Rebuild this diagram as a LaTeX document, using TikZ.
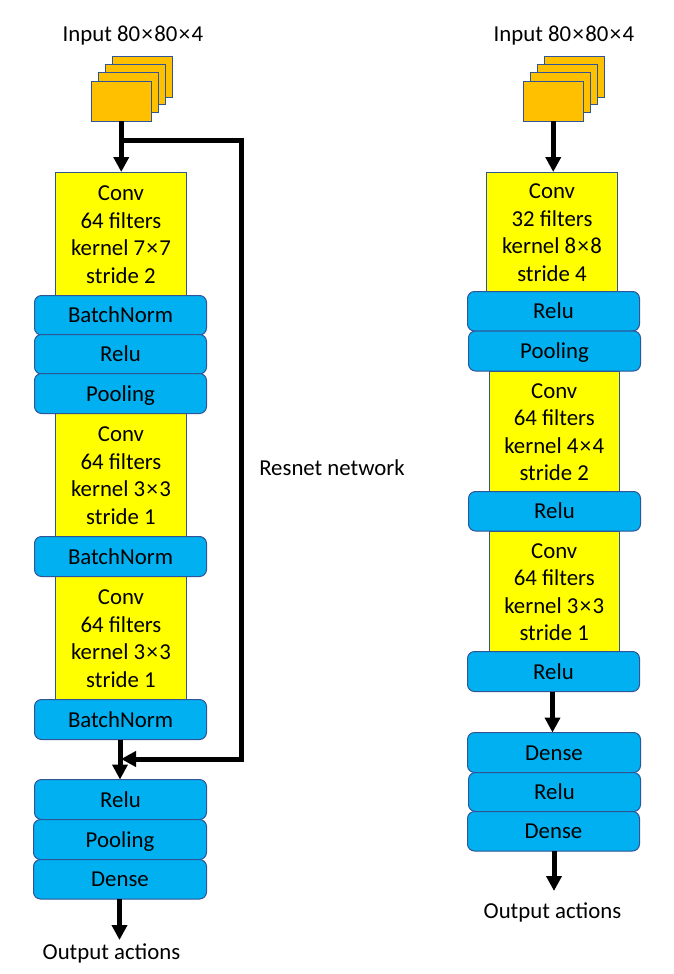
\documentclass[tikz,border=0pt]{standalone}
\usepackage{fontspec}
\setmainfont{Carlito}
\usetikzlibrary{arrows.meta}
\definecolor{outl}{HTML}{2F5597}
\definecolor{frameorange}{HTML}{FFC000}
\definecolor{layerblue}{HTML}{00B0F0}
\definecolor{convyellow}{RGB}{255,255,0}
\tikzset{
  base/.style={draw=outl,line width=1pt,inner sep=0pt,outer sep=0pt,align=center,text=black},
  frame/.style={base,fill=frameorange},
  conv/.style={base,fill=convyellow},
  layer/.style={base,fill=layerblue,rounded corners=7pt,text height=15pt,text depth=0pt},
  label/.style={inner sep=0pt,text=black},
  link/.style={line width=5pt,draw=black},
  flow/.style={link,-{Triangle[length=15pt,width=15pt]}}
}
\newcommand{\bx}[7]{\node[#2,minimum width={(#5-#3)*1pt},minimum height={(#6-#4)*1pt}] (#1) at ({(#3+#5)/2},{(#4+#6)/2}) {#7};}
\newcommand{\tm}{\kern1.4pt×\kern1.4pt}
\newcommand{\cl}{\rule{0pt}{17pt}}
\begin{document}
\begin{tikzpicture}[x=1pt,y=-1pt,font=\fontsize{22.8}{27.4}\selectfont]
\useasboundingbox (0,0) rectangle (673,974);
% left column
\node[label] (inL) at (133,36) {Input 80\tm 80\tm 4};
\bx{fa}{frame}{112}{57}{172.5}{97}{}
\bx{fb}{frame}{105}{65}{165.5}{104.5}{}
\bx{fc}{frame}{98}{72}{158.5}{112}{}
\bx{fd}{frame}{91}{81}{151.5}{121}{}
\bx{c1}{conv}{55.5}{172}{186.5}{295}{\cl Conv\\64 filters\\kernel 7\tm 7\\stride 2}
\bx{c2}{conv}{55.5}{413}{186.5}{536}{\cl Conv\\64 filters\\kernel 3\tm 3\\stride 1}
\bx{c3}{conv}{55.5}{576}{186.5}{699}{\cl Conv\\64 filters\\kernel 3\tm 3\\stride 1}
\bx{b1}{layer}{34.5}{295.5}{206.5}{335}{BatchNorm}
\bx{r1}{layer}{34.5}{334.5}{206.5}{374}{Relu}
\bx{p1}{layer}{34.5}{373.5}{206.5}{413.5}{Pooling}
\bx{b2}{layer}{34.5}{536.5}{206.5}{576.5}{BatchNorm}
\bx{b3}{layer}{34.5}{699.5}{206.5}{739.5}{BatchNorm}
\bx{r2}{layer}{34.5}{779.5}{206.5}{819.5}{Relu}
\bx{p2}{layer}{33.5}{819.5}{206.5}{859.5}{Pooling}
\bx{d1}{layer}{33.5}{859.5}{206.5}{899}{Dense}
\node[label] (res) at (332,468) {Resnet network};
\node[label] (outL) at (111.5,953.5) {Output actions};
\coordinate (split) at (121.5,140);
\coordinate (turnA) at (241,140);
\coordinate (turnB) at (241,759);
\coordinate (join) at (121,759);
\coordinate (outLtip) at (119.5,940);
\draw[flow] (fd.south) -- (fd.south |- c1.north);
\draw[flow,line join=miter] (split) -- (turnA) -- (turnB) -- (join);
\draw[flow] (120,739.5) -- (120,779.5);
\draw[flow] (outLtip |- d1.south) -- (outLtip);
% right column
\node[label] (inR) at (564,36) {Input 80\tm 80\tm 4};
\bx{ga}{frame}{544}{57}{604.5}{97}{}
\bx{gb}{frame}{537}{65}{597.5}{104.5}{}
\bx{gc}{frame}{530}{72}{590.5}{112}{}
\bx{gd}{frame}{523}{81}{583.5}{121}{}
\bx{k1}{conv}{486.5}{172}{617.5}{291}{\cl Conv\\32 filters\\kernel 8\tm 8\\stride 4}
\bx{k2}{conv}{489}{371}{619.5}{491}{\cl Conv\\64 filters\\kernel 4\tm 4\\stride 2}
\bx{k3}{conv}{489}{531}{619.5}{651}{\cl Conv\\64 filters\\kernel 3\tm 3\\stride 1}
\bx{s1}{layer}{467.5}{291.5}{639.5}{331}{Relu}
\bx{q1}{layer}{468.5}{331}{640.5}{371}{Pooling}
\bx{s2}{layer}{468.5}{491.5}{640.5}{531}{Relu}
\bx{s3}{layer}{467.5}{651.5}{639.5}{691.5}{Relu}
\bx{e1}{layer}{467.5}{732.5}{640.5}{772.5}{Dense}
\bx{s4}{layer}{468.5}{772.5}{640.5}{811.5}{Relu}
\bx{e2}{layer}{467.5}{811.5}{639.5}{851}{Dense}
\node[label] (outR) at (552.5,912) {Output actions};
\coordinate (outRtip) at (554,891);
\draw[flow] (gd.south) -- (gd.south |- k1.north);
\draw[flow] (552.5,691.5) -- (552.5,732.5);
\draw[flow] (outRtip |- e2.south) -- (outRtip);
\end{tikzpicture}
\end{document}
